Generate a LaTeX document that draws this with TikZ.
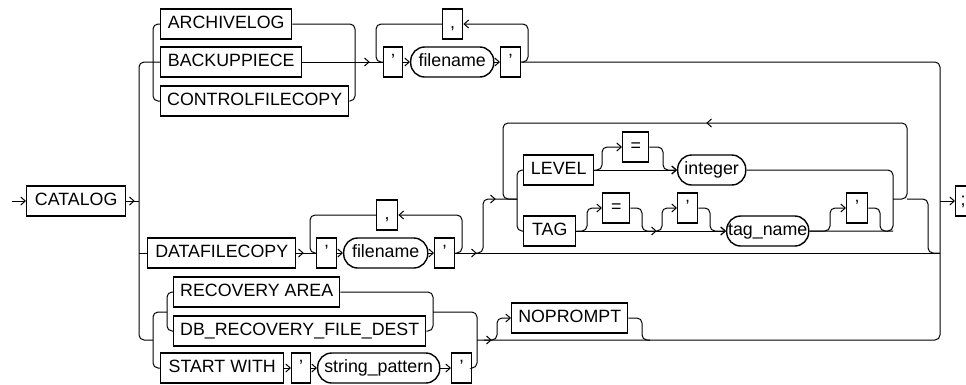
\documentclass[tikz,border=0pt]{standalone}
\usepackage{fontspec}
\setmainfont{Liberation Sans}
\usetikzlibrary{arrows.meta}
\begin{document}
\begin{tikzpicture}[x=1pt,y=-1pt,
  ln/.style={line width=1pt, rounded corners=5pt},
  ar/.style={ln, -{Straight Barb[length=4.5pt,width=8pt,line width=1pt]}},
  kw/.style={draw, line width=1.4pt, minimum height=30pt, inner sep=0pt, anchor=west,
             font=\fontsize{17.8}{20}\selectfont, text height=12.8pt, text depth=3.8pt},
  nt/.style={kw, rounded corners=14pt},
  rb/.pic={\draw[line width=1pt] (-4.5,-4) -- (0,0) -- (-4.5,4);},
  lb/.pic={\draw[line width=1pt] (4.5,-4) -- (0,0) -- (4.5,4);},
]
\useasboundingbox (0,0) rectangle (966,384);

% ---------- nodes ----------
\node[kw, minimum width=99pt] (catalog) at (26,201) {CATALOG};
\node[kw, minimum width=131pt] (archlog) at (160,24) {ARCHIVELOG};
\node[kw, minimum width=141pt] (backup) at (160,62) {BACKUPPIECE};
\node[kw, minimum width=188pt] (ctrl) at (160,101) {CONTROLFILECOPY};
\node[kw, minimum width=19pt] (qa) at (383,62) {’};
\node[nt, minimum width=83pt] (fna) at (410,62) {filename};
\node[kw, minimum width=20pt] (qb) at (500,62) {’};
\node[kw, minimum width=20pt] (ca) at (442,24) {,};

\node[kw, minimum width=148pt] (dfc) at (147,253) {DATAFILECOPY};
\node[kw, minimum width=20pt] (qc) at (316,253) {’};
\node[nt, minimum width=84pt] (fnb) at (343,253) {filename};
\node[kw, minimum width=20pt] (qd) at (434,253) {’};
\node[kw, minimum width=21pt] (cb) at (376,215) {,};

\node[kw, minimum width=70pt] (level) at (523,170) {LEVEL};
\node[kw, minimum width=26pt] (eqa) at (622,147) {=};
\node[nt, minimum width=68pt] (int) at (677,170) {integer};
\node[kw, minimum width=52pt] (tag) at (523,231) {TAG};
\node[kw, minimum width=27pt] (eqb) at (602,208) {=};
\node[kw, minimum width=20pt] (qe) at (677,208) {’};
\node[nt, minimum width=82pt] (tn) at (726,231) {tag\_name};
\node[kw, minimum width=21pt] (qf) at (846,208) {’};

\node[kw, minimum width=166pt] (rec) at (173,292) {RECOVERY AREA};
\node[kw, minimum width=252pt] (dbr) at (173,331) {DB\_RECOVERY\_FILE\_DEST};
\node[kw, minimum width=123pt] (sw) at (160,368) {START WITH};
\node[kw, minimum width=19pt] (qg) at (291,368) {’};
\node[nt, minimum width=122pt] (sp) at (317,368) {string\_pattern};
\node[kw, minimum width=20pt] (qh) at (451,368) {’};
\node[kw, minimum width=116pt] (np) at (511,318) {NOPROMPT};
\node[kw, minimum width=15pt] (semi) at (955,201) {;};

% ---------- connectors ----------
\coordinate (start) at (12,201);
\draw[ar] (start) -- (catalog.west);
\draw[ln] (catalog.east) -- (139,201);
\pic at (134,201) {rb};
\draw[ln] (backup.west) -- (139,62) -- (139,340) -- (153,340);
\draw[ln] (139,253) -- (dfc.west);

% top group
\draw[ln] (archlog.west) -- (153,24) -- (153,101) -- (ctrl.west);
\draw[ln] (archlog.east) -- (355,24) -- (355,101) -- (ctrl.east);
\draw[ln] (backup.east) -- (qa.west);
\pic at (369,62) {rb};
\draw[ar] (qb.east) -- (528,62) -- (528,24) -- (ca.east);
\draw[ln] (ca.west) -- (376,24) -- (376,62) -- (qa.west);
\draw[ar] (qa.east) -- (fna.west);
\draw[ar] (fna.east) -- (qb.west);
\draw[ln] (qb.east) -- (940,62) -- (940,340) -- (477,340);
\draw[ar] (940,201) -- (semi.west);

% DATAFILECOPY row
\draw[ln] (dfc.east) -- (qc.west);
\pic at (303,253) {rb};
\draw[ar] (qd.east) -- (462,253) -- (462,215) -- (cb.east);
\draw[ln] (cb.west) -- (310,215) -- (310,253) -- (qc.west);
\draw[ar] (qc.east) -- (fnb.west);
\draw[ar] (fnb.east) -- (qd.west);
\draw[ln] (qd.east) -- (940,253);
\pic at (476,253) {rb};
\draw[ln] (476,253) -- (483,253) -- (483,199) -- (517,199);
\pic at (495,199) {rb};
\draw[ln] (893,199) -- (907,199) -- (907,123) -- (503,123) -- (503,199) -- (517,199);
\pic at (707,123) {lb};
\draw[ln] (907,199) -- (928,199) -- (928,253) -- (940,253);
\draw[ln] (level.west) -- (517,170) -- (517,231) -- (tag.west);

% LEVEL row
\draw[ar] (level.east) -- (int.west);
\draw[ar] (level.east) -- (602,170) -- (602,147) -- (eqa.west);
\draw[ar] (eqa.east) -- (663,147) -- (663,170) -- (int.west);
\draw[ln] (int.east) -- (893,170) -- (893,231) -- (tn.east);

% TAG row
\draw[ar] (tag.east) -- (tn.west);
\draw[ar] (tag.east) -- (587,231) -- (587,208) -- (eqb.west);
\draw[ln] (eqb.east) -- (642,208) -- (642,231) -- (650,231);
\pic at (656,231) {rb};
\draw[ar] (650,231) -- (662,231) -- (662,208) -- (qe.west);
\draw[ar] (qe.east) -- (710,208) -- (710,231) -- (tn.west);
\draw[ar] (tn.east) -- (830,231) -- (830,208) -- (qf.west);
\draw[ln] (qf.east) -- (880,208) -- (880,231) -- (893,231);

% bottom group
\draw[ln] (rec.west) -- (167,292) -- (167,331) -- (dbr.west);
\draw[ln] (167,312) -- (153,312) -- (153,368) -- (sw.west);
\draw[ln] (rec.east) -- (433,292) -- (433,331) -- (dbr.east);
\draw[ln] (433,312) -- (477,312) -- (477,368) -- (qh.east);
\draw[ar] (sw.east) -- (qg.west);
\draw[ar] (qg.east) -- (sp.west);
\draw[ar] (sp.east) -- (qh.west);
\pic at (491,340) {rb};
\draw[ar] (484,340) -- (497,340) -- (497,318) -- (np.west);
\draw[ln] (np.east) -- (642,318) -- (642,340) -- (650,340);
\end{tikzpicture}
\end{document}
